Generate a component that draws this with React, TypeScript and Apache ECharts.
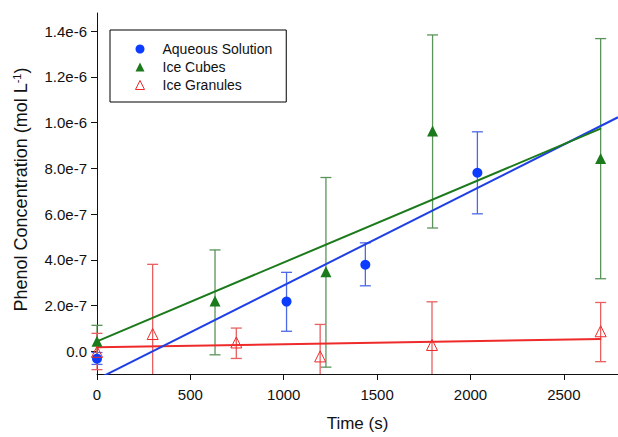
import React, { useEffect, useRef } from "react";
import * as echarts from "echarts";

// ---- data ----
const aqX = [0, 1015, 1437, 2037];
const aqY = [-3.3e-8, 2.17e-7, 3.78e-7, 7.81e-7];
const aqLo = [-5.8e-8, 8.7e-8, 2.86e-7, 6.01e-7];
const aqHi = [-0.6e-8, 3.45e-7, 4.74e-7, 9.6e-7];

const icX = [0, 632, 1226, 1797, 2697];
const icY = [4.3e-8, 2.19e-7, 3.48e-7, 9.64e-7, 8.43e-7];
const icLo = [-2.7e-8, -1.6e-8, -7.0e-8, 5.39e-7, 3.17e-7];
const icHi = [1.13e-7, 4.43e-7, 7.6e-7, 1.384e-6, 1.368e-6];

const igX = [0, 298, 746, 1195, 1794, 2697];
const igY = [-3e-9, 7.5e-8, 3.8e-8, -2.3e-8, 2.7e-8, 8.7e-8];
const igLo = [-8.1e-8, -2.3e-7, -3.2e-8, -1.6e-7, -1.6e-7, -4.6e-8];
const igHi = [7.8e-8, 3.8e-7, 1.01e-7, 1.17e-7, 2.16e-7, 2.13e-7];

// fit lines: [x, y] endpoints
const aqFit = [[0, -1.23e-7], [2790, 1.0237e-6]];
const icFit = [[0, 4.3e-8], [2700, 9.75e-7]];
const igFit = [[0, 1.7e-8], [2700, 5.3e-8]];

const xTicks = [0, 500, 1000, 1500, 2000, 2500];
const yTicks = [0, 2e-7, 4e-7, 6e-7, 8e-7, 1e-6, 1.2e-6, 1.4e-6];

const seriesNames = ["Aqueous Solution", "Ice Cubes", "Ice Granules"];

const BLUE = "#0b3cff";
const BLUE_LINE = "#1f3fe6";
const BLUE_ERR = "#4d6ae6";
const GREEN = "#1b7a1b";
const GREEN_ERR = "#5a945a";
const RED = "#ee2a2a";
const RED_ERR = "#e86060";

const FONT = "Liberation Sans, Arial, sans-serif";

function errSeries(name: string, xs: number[], lo: number[], hi: number[], color: string) {
  return {
    type: "custom",
    name,
    silent: true,
    z: 1,
    data: xs.map((x, i) => [x, lo[i], hi[i]]),
    encode: { x: 0, y: [1, 2] },
    renderItem: (params: any, api: any) => {
      const x = api.value(0);
      const pLo = api.coord([x, api.value(1)]);
      const pHi = api.coord([x, api.value(2)]);
      const cs = params.coordSys;
      const top = Math.max(pHi[1], cs.y);
      const bot = Math.min(pLo[1], cs.y + cs.height);
      const cx = pLo[0];
      const w = 5.5;
      const st = { stroke: color, lineWidth: 1.3 };
      const children: any[] = [
        { type: "line", shape: { x1: cx, y1: top, x2: cx, y2: bot }, style: st },
      ];
      if (pHi[1] >= cs.y - 0.5)
        children.push({ type: "line", shape: { x1: cx - w, y1: pHi[1], x2: cx + w, y2: pHi[1] }, style: st });
      if (pLo[1] <= cs.y + cs.height + 0.5)
        children.push({ type: "line", shape: { x1: cx - w, y1: pLo[1], x2: cx + w, y2: pLo[1] }, style: st });
      return { type: "group", children };
    },
  };
}

function fitSeries(name: string, pts: number[][], color: string) {
  return {
    type: "line",
    name,
    data: pts,
    showSymbol: false,
    symbol: "none",
    silent: true,
    z: 2,
    lineStyle: { color, width: 2 },
    clip: true,
  };
}

export default function App() {
  const ref = useRef<HTMLDivElement>(null);
  useEffect(() => {
    if (!ref.current) return;
    const chart = echarts.init(ref.current, undefined, { renderer: "svg" });
    chart.setOption({
      animation: false,
      backgroundColor: "#ffffff",
      grid: { left: 97, right: 0, top: 13, bottom: 60, containLabel: false },
      legend: {
        orient: "vertical",
        left: 110,
        top: 30,
        data: [
          { name: seriesNames[0], icon: "circle" },
          { name: seriesNames[1], icon: "triangle" },
          {
            name: seriesNames[2],
            icon: "triangle",
            itemStyle: { color: "rgba(255,255,255,0)", borderColor: RED, borderWidth: 1 },
          },
        ],
        itemWidth: 9,
        itemHeight: 9,
        itemGap: 4,
        padding: [12, 14, 10, 25],
        borderColor: "#000",
        borderWidth: 1,
        borderRadius: 0,
        textStyle: { fontFamily: FONT, fontSize: 14, color: "#111", padding: [0, 0, 0, 13], lineHeight: 13 },
        selectedMode: false,
      },
      xAxis: {
        type: "value",
        min: 0,
        max: 2790,
        name: "Time (s)",
        nameLocation: "middle",
        nameGap: 41,
        nameTextStyle: { fontFamily: FONT, fontSize: 17, color: "#111" },
        splitLine: { show: false },
        axisLine: { show: true, onZero: false, lineStyle: { color: "#111", width: 1 } },
        axisTick: { show: true, length: 6, customValues: xTicks, lineStyle: { color: "#111" } },
        axisLabel: {
          customValues: xTicks,
          margin: 13,
          fontFamily: FONT,
          fontSize: 15,
          color: "#111",
          formatter: (v: number) => String(v),
        },
      },
      yAxis: {
        type: "value",
        min: -1e-7,
        max: 1.48e-6,
        name: "Phenol Concentration (mol L{sup|-1})",
        nameLocation: "middle",
        nameGap: 66,
        nameRotate: 90,
        nameTextStyle: {
          fontFamily: FONT,
          fontSize: 18,
          color: "#111",
          padding: [0, 0, 0, 8],
          rich: { sup: { fontFamily: FONT, fontSize: 11, color: "#111", verticalAlign: "top", padding: [0, 0, 9, 0] } },
        },
        splitLine: { show: false },
        axisLine: { show: true, onZero: false, lineStyle: { color: "#111", width: 1 } },
        axisTick: { show: true, length: 6, customValues: yTicks, lineStyle: { color: "#111" } },
        axisLabel: {
          customValues: yTicks,
          margin: 10,
          fontFamily: FONT,
          fontSize: 15,
          color: "#111",
          formatter: (v: number) => (Math.abs(v) < 1e-12 ? "0.0" : v.toExponential(1)),
        },
      },
      series: [
        errSeries("err-aq", aqX, aqLo, aqHi, BLUE_ERR),
        errSeries("err-ic", icX, icLo, icHi, GREEN_ERR),
        errSeries("err-ig", igX, igLo, igHi, RED_ERR),
        fitSeries("fit-ig", igFit, RED),
        fitSeries("fit-aq", aqFit, BLUE_LINE),
        fitSeries("fit-ic", icFit, GREEN),
        {
          type: "scatter",
          name: seriesNames[0],
          data: aqX.map((x, i) => [x, aqY[i]]),
          symbol: "circle",
          symbolSize: 10,
          itemStyle: { color: BLUE, opacity: 1 },
          z: 3,
        },
        {
          type: "scatter",
          name: seriesNames[1],
          data: icX.map((x, i) => [x, icY[i]]),
          symbol: "triangle",
          symbolSize: 11,
          itemStyle: { color: GREEN, opacity: 1 },
          z: 3,
        },
        {
          type: "scatter",
          name: seriesNames[2],
          data: igX.map((x, i) => [x, igY[i]]),
          symbol: "triangle",
          symbolSize: 11,
          itemStyle: { color: "rgba(255,255,255,0)", borderColor: RED, borderWidth: 1, opacity: 1 },
          z: 3,
        },
      ],
    });
    return () => chart.dispose();
  }, []);
  return (
    <div
      ref={ref}
      style={{ position: "absolute", left: 0, top: 0, width: 618, height: 437 }}
    />
  );
}
